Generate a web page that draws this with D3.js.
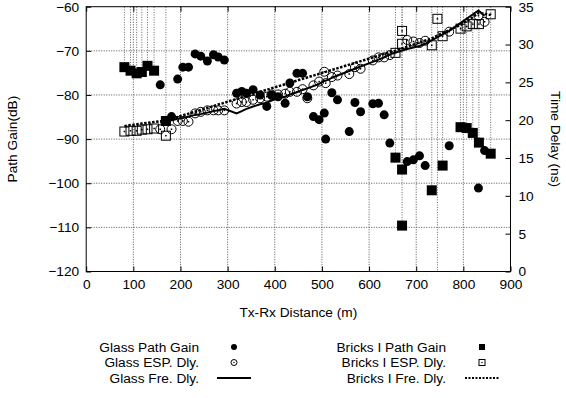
<!DOCTYPE html>
<html>
<head>
<meta charset="utf-8">
<script src="https://cdn.jsdelivr.net/npm/d3@7"></script>
<style>
  body { margin: 0; background: #fff; }
  svg { display: block; font-family: "Liberation Sans", Arial, sans-serif; }
</style>
</head>
<body>
<div id="chart"></div>
<script>
// distances (m) and values
const glassDist = [157, 181, 194, 205, 217, 231, 243, 257, 270, 280, 293, 319, 330, 340, 354, 369, 383, 393, 407, 422,
    432, 447, 459, 469, 482, 494, 505, 508, 521, 533, 558, 570, 582, 608, 620, 632, 644, 681, 694, 707, 719, 770, 832, 845];
const glassGain = [-77.7, -84.9, -76.4, -73.7, -73.7, -70.7, -71.2, -72.3, -70.9, -71.4, -72.1, -79.6, -79.2, -79.6, -78.8, -80.0, -82.6, -80.0, -80.4, -81.9,
    -77.3, -75.1, -75.1, -80.4, -84.9, -85.6, -84.1, -90.0, -79.5, -81.1, -88.3, -81.7, -83.8, -82.0, -81.9, -84.5, -90.9, -95.1, -94.7, -93.8, -96.0, -91.5, -101.1, -92.6];
const glassEsp = [18.8, 18.8, 19.9, 19.9, 19.8, 20.9, 21.1, 21.3, 21.3, 21.3, 21.3, 22.2, 22.4, 22.4, 22.7, 22.9, 23.1, 23.4, 23.4, 23.5,
    23.75, 23.75, 24.1, 22.9, 24.6, 25.1, 26.4, 24.9, 25.7, 25.9, 26.1, 27.0, 26.8, 27.9, 28.3, 28.3, 28.6, 30.6, 30.4, 30.2, 30.5, 31.7, 33.8, 33.0];
const glassFre = [19.7, 20.0, 20.2, 20.3, 20.5, 20.7, 20.8, 21.0, 21.2, 21.3, 21.5, 20.9, 21.2, 21.5, 21.8, 22.1, 22.3, 22.6, 22.9, 23.1,
    23.4, 23.7, 24.0, 24.2, 24.5, 24.8, 25.2, 25.2, 25.6, 25.9, 26.5, 26.8, 27.1, 27.7, 28.0, 28.3, 28.7, 29.4, 29.6, 29.8, 30.1, 31.8, 34.5, 33.8];

const bricksDist = [81, 94, 107, 118, 130, 144, 169, 656, 670, 670, 733, 745, 756, 794, 807, 820, 833, 858];
const bricksGain = [-73.7, -74.5, -75.1, -74.8, -73.4, -74.5, -85.9, -94.2, -96.9, -109.6, -101.6, -125, -96.0, -87.3, -87.5, -88.6, -90.8, -93.3];
const bricksEsp = [18.5, 18.6, 18.6, 18.75, 18.8, 18.9, 17.95, 28.9, 31.8, 30.1, 29.9, 33.4, 31.1, 32.1, 32.4, 32.7, 32.7, 34.0];
const bricksFre = [19.2, 19.35, 19.45, 19.55, 19.65, 19.75, 19.95, 29.2, 29.5, 29.5, 30.8, 31.2, 31.5, 32.6, 33.1, 33.6, 34.2, 33.9];

const xTicks = [0, 100, 200, 300, 400, 500, 600, 700, 800, 900];
const gainTicks = [-120, -110, -100, -90, -80, -70, -60];
const delayTicks = [0, 5, 10, 15, 20, 25, 30, 35];

const leftLabels = ["Glass Path Gain", "Glass ESP. Dly.", "Glass Fre. Dly."];
const rightLabels = ["Bricks I Path Gain", "Bricks I ESP. Dly.", "Bricks I Fre. Dly."];

const width = 566, height = 398;
const plot = { left: 86.2, right: 510.5, top: 6.7, bottom: 271.5 };
const fontSize = 13.7;

const svg = d3.select("#chart").append("svg")
    .attr("width", width)
    .attr("height", height);

const x = d3.scaleLinear().domain([0, 900]).range([plot.left, plot.right]);
const yGain = d3.scaleLinear().domain([-120, -60]).range([plot.bottom, plot.top]);
const yDelay = d3.scaleLinear().domain([0, 35]).range([plot.bottom, plot.top]);

svg.append("clipPath").attr("id", "clip")
    .append("rect")
    .attr("x", plot.left).attr("y", plot.top)
    .attr("width", plot.right - plot.left).attr("height", plot.bottom - plot.top);

// grid
const grid = svg.append("g").attr("stroke", "#555").attr("stroke-dasharray", "1,1.5").attr("stroke-width", 1);
grid.selectAll(".gx").data(xTicks.slice(1, -1)).join("line")
    .attr("x1", d => x(d)).attr("x2", d => x(d))
    .attr("y1", plot.top).attr("y2", plot.bottom);
grid.selectAll(".gy").data(gainTicks.slice(1, -1)).join("line")
    .attr("x1", plot.left).attr("x2", plot.right)
    .attr("y1", d => yGain(d)).attr("y2", d => yGain(d));

// axes, ticks pointing inward
const axisFont = g => g.attr("font-size", fontSize).attr("font-family", "Liberation Sans, Arial, sans-serif")
    .call(g => g.select(".domain").remove())
    .call(g => g.selectAll("text").attr("fill", "#000"));

svg.append("g").attr("transform", `translate(0,${plot.bottom})`)
    .call(d3.axisBottom(x).tickValues(xTicks).tickSizeInner(-5).tickSizeOuter(0).tickPadding(8))
    .call(axisFont);
svg.append("g").attr("transform", `translate(0,${plot.top})`)
    .call(d3.axisTop(x).tickValues(xTicks).tickSizeInner(-5).tickSizeOuter(0).tickFormat(""))
    .call(axisFont);
svg.append("g").attr("transform", `translate(${plot.left},0)`)
    .call(d3.axisLeft(yGain).tickValues(gainTicks).tickSizeInner(-5).tickSizeOuter(0).tickPadding(7))
    .call(axisFont);
svg.append("g").attr("transform", `translate(${plot.right},0)`)
    .call(d3.axisRight(yDelay).tickValues(delayTicks).tickSizeInner(-5).tickSizeOuter(0).tickPadding(8))
    .call(axisFont);

svg.append("rect")
    .attr("x", plot.left).attr("y", plot.top)
    .attr("width", plot.right - plot.left).attr("height", plot.bottom - plot.top)
    .attr("fill", "none").attr("stroke", "#000").attr("stroke-width", 1);

// axis titles
svg.append("text")
    .attr("transform", `translate(17,${(plot.top + plot.bottom) / 2}) rotate(-90)`)
    .attr("text-anchor", "middle").attr("font-size", fontSize)
    .text("Path Gain(dB)");
svg.append("text")
    .attr("transform", `translate(551,${(plot.top + plot.bottom) / 2}) rotate(90)`)
    .attr("text-anchor", "middle").attr("font-size", fontSize)
    .text("Time Delay (ns)");
svg.append("text")
    .attr("x", (plot.left + plot.right) / 2).attr("y", 317)
    .attr("text-anchor", "middle").attr("font-size", fontSize)
    .text("Tx-Rx Distance (m)");

const data = svg.append("g").attr("clip-path", "url(#clip)");

const glass = glassDist.map((d, i) => ({ d: d, gain: glassGain[i], esp: glassEsp[i], fre: glassFre[i] }));
const bricks = bricksDist.map((d, i) => ({ d: d, gain: bricksGain[i], esp: bricksEsp[i], fre: bricksFre[i] }));

// bricks path gain as impulses from 0 dB (clipped at top)
data.selectAll(".imp").data(bricks).join("line")
    .attr("x1", d => x(d.d)).attr("x2", d => x(d.d))
    .attr("y1", yGain(0)).attr("y2", d => yGain(d.gain))
    .attr("stroke", "#666").attr("stroke-dasharray", "1,1.5");

// free-space delay lines
const freLine = d3.line().x(d => x(d.d)).y(d => yDelay(d.fre));
data.append("path").datum(glass)
    .attr("d", freLine).attr("fill", "none").attr("stroke", "#000").attr("stroke-width", 2);
data.append("path").datum(bricks)
    .attr("d", freLine).attr("fill", "none").attr("stroke", "#000").attr("stroke-width", 2.5)
    .attr("stroke-dasharray", "2.5,1.5");

// ESP delays
data.selectAll(".gesp").data(glass).join("circle")
    .attr("cx", d => x(d.d)).attr("cy", d => yDelay(d.esp)).attr("r", 4.5)
    .attr("fill", "none").attr("stroke", "#000").attr("stroke-width", 1);
data.selectAll(".besp").data(bricks).join("rect")
    .attr("x", d => x(d.d) - 4.5).attr("y", d => yDelay(d.esp) - 4.5)
    .attr("width", 9).attr("height", 9)
    .attr("fill", "none").attr("stroke", "#000").attr("stroke-width", 1);
data.selectAll(".dot").data(glass.map(d => [d.d, d.esp]).concat(bricks.map(d => [d.d, d.esp]))).join("rect")
    .attr("x", d => x(d[0]) - 0.75).attr("y", d => yDelay(d[1]) - 0.75)
    .attr("width", 1.5).attr("height", 1.5).attr("fill", "#000");

// path gains
data.selectAll(".gpg").data(glass).join("circle")
    .attr("cx", d => x(d.d)).attr("cy", d => yGain(d.gain)).attr("r", 4.5)
    .attr("fill", "#000");
data.selectAll(".bpg").data(bricks).join("rect")
    .attr("x", d => x(d.d) - 5).attr("y", d => yGain(d.gain) - 5)
    .attr("width", 10).attr("height", 10).attr("fill", "#000");

// legend
const legendRows = [351.5, 367, 382.5];
function legendColumn(labels, textX) {
    const g = svg.append("g").attr("font-size", fontSize);
    g.selectAll("text").data(labels).join("text")
        .attr("x", textX).attr("y", (d, i) => legendRows[i])
        .attr("text-anchor", "end").text(d => d);
    return g;
}
const lg = legendColumn(leftLabels, 199);
lg.append("circle").attr("cx", 234).attr("cy", legendRows[0] - 4.5).attr("r", 3).attr("fill", "#000");
lg.append("circle").attr("cx", 234).attr("cy", legendRows[1] - 4.5).attr("r", 3)
    .attr("fill", "none").attr("stroke", "#000");
lg.append("rect").attr("x", 233.4).attr("y", legendRows[1] - 5.1).attr("width", 1.2).attr("height", 1.2);
lg.append("line").attr("x1", 217).attr("x2", 251).attr("y1", legendRows[2] - 4.5).attr("y2", legendRows[2] - 4.5)
    .attr("stroke", "#000").attr("stroke-width", 2);

const rg = legendColumn(rightLabels, 446);
rg.append("rect").attr("x", 479).attr("y", legendRows[0] - 7.5).attr("width", 6).attr("height", 6).attr("fill", "#000");
rg.append("rect").attr("x", 479).attr("y", legendRows[1] - 7.5).attr("width", 6).attr("height", 6)
    .attr("fill", "none").attr("stroke", "#000");
rg.append("rect").attr("x", 481.4).attr("y", legendRows[1] - 5.1).attr("width", 1.2).attr("height", 1.2);
rg.append("line").attr("x1", 465).attr("x2", 499).attr("y1", legendRows[2] - 4.5).attr("y2", legendRows[2] - 4.5)
    .attr("stroke", "#000").attr("stroke-width", 2).attr("stroke-dasharray", "2,1.5");
</script>
</body>
</html>
